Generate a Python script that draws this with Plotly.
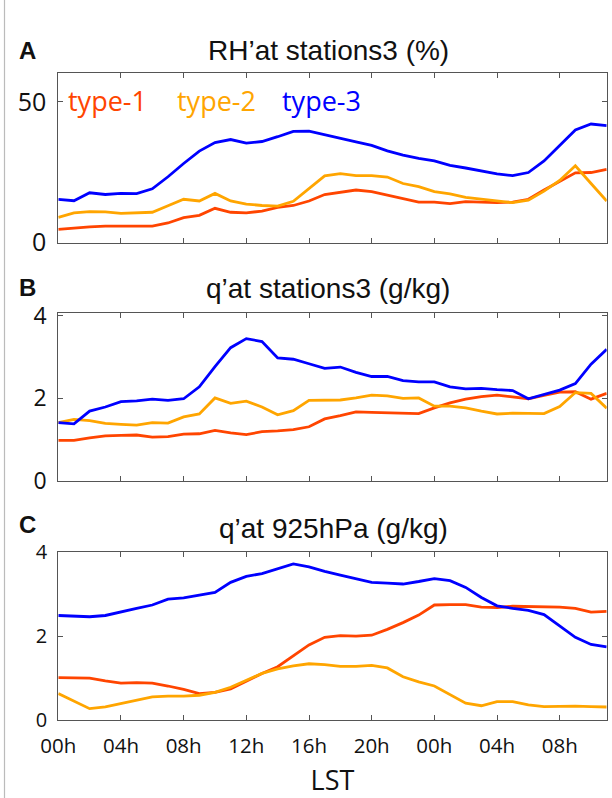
import plotly.graph_objects as go

hours = list(range(36))
xtick_vals = [0, 4, 8, 12, 16, 20, 24, 28, 32]
xtick_text = ["00h", "04h", "08h", "12h", "16h", "20h", "00h", "04h", "08h"]

series_names = ["type-1", "type-2", "type-3"]
colors = ["#FF4500", "#FFA500", "#0000FF"]

# Panel A: RH' at stations3 (%)
rh_type1 = [4.7, 5.2, 5.6, 5.9, 5.9, 5.8, 5.9, 7.0, 8.9, 9.7, 12.2, 10.8, 10.6, 11.2, 12.5, 13.2,
            14.8, 17.1, 18.0, 18.7, 18.1, 16.9, 15.5, 14.4, 14.4, 13.9, 14.6, 14.4, 14.2, 14.4,
            15.4, 18.7, 21.9, 24.8, 24.9, 26.0]
rh_type2 = [9.0, 10.6, 11.0, 10.9, 10.4, 10.5, 10.8, 13.1, 15.4, 14.8, 17.5, 14.8, 13.7, 13.2, 13.0,
            14.7, 19.3, 23.7, 24.5, 23.8, 23.8, 23.3, 21.0, 19.9, 18.1, 17.3, 16.1, 15.5, 14.8,
            14.2, 15.1, 18.3, 22.1, 27.3, 21.0, 14.8]
rh_type3 = [15.4, 14.9, 17.7, 17.1, 17.5, 17.4, 19.1, 23.4, 28.1, 32.5, 35.5, 36.6, 35.3, 35.9, 37.6,
            39.5, 39.6, 38.4, 37.1, 35.8, 34.5, 32.6, 31.1, 29.9, 29.0, 27.4, 26.5, 25.5, 24.4,
            23.8, 24.9, 29.0, 34.6, 40.0, 42.1, 41.5]

# Panel B: q' at stations3 (g/kg)
qs_type1 = [0.98, 0.98, 1.04, 1.09, 1.10, 1.11, 1.06, 1.07, 1.13, 1.14, 1.22, 1.16, 1.12, 1.19, 1.21,
            1.24, 1.31, 1.50, 1.58, 1.67, 1.66, 1.65, 1.64, 1.63, 1.77, 1.89, 1.98, 2.04, 2.08,
            2.04, 1.99, 2.07, 2.15, 2.16, 1.98, 2.12]
qs_type2 = [1.41, 1.49, 1.46, 1.39, 1.37, 1.35, 1.41, 1.40, 1.55, 1.62, 2.01, 1.88, 1.93, 1.79, 1.60,
            1.70, 1.95, 1.96, 1.96, 2.01, 2.08, 2.06, 2.00, 2.01, 1.81, 1.81, 1.77, 1.69, 1.62,
            1.64, 1.64, 1.63, 1.80, 2.14, 2.12, 1.76]
qs_type3 = [1.41, 1.38, 1.69, 1.79, 1.92, 1.94, 1.98, 1.95, 1.99, 2.28, 2.77, 3.23, 3.45, 3.38, 2.98,
            2.95, 2.84, 2.73, 2.76, 2.63, 2.53, 2.53, 2.43, 2.40, 2.40, 2.28, 2.23, 2.24, 2.21,
            2.19, 1.99, 2.09, 2.20, 2.36, 2.83, 3.19]

# Panel C: q' at 925hPa (g/kg)
q925_type1 = [1.01, 1.00, 1.00, 0.93, 0.88, 0.89, 0.88, 0.81, 0.73, 0.63, 0.66, 0.74, 0.92, 1.11, 1.27,
              1.53, 1.79, 1.97, 2.01, 2.00, 2.02, 2.16, 2.32, 2.50, 2.74, 2.75, 2.75, 2.69, 2.68,
              2.71, 2.70, 2.70, 2.69, 2.66, 2.57, 2.59]
q925_type2 = [0.63, 0.44, 0.27, 0.31, 0.39, 0.46, 0.55, 0.57, 0.57, 0.59, 0.66, 0.78, 0.95, 1.11, 1.22,
              1.29, 1.34, 1.32, 1.28, 1.28, 1.30, 1.24, 1.03, 0.91, 0.81, 0.60, 0.40, 0.34, 0.44,
              0.44, 0.36, 0.32, 0.33, 0.33, 0.32, 0.31]
q925_type3 = [2.49, 2.47, 2.46, 2.49, 2.58, 2.66, 2.74, 2.88, 2.91, 2.97, 3.04, 3.28, 3.42, 3.49, 3.61,
              3.72, 3.65, 3.54, 3.45, 3.37, 3.28, 3.26, 3.24, 3.30, 3.37, 3.32, 3.16, 2.92, 2.72,
              2.66, 2.61, 2.51, 2.23, 1.97, 1.80, 1.74]

panels = [
    ("A", "RH\u2019at stations3 (%)", [rh_type1, rh_type2, rh_type3], [0, 50], [0, 60.2], 25),
    ("B", "q\u2019at stations3 (g/kg)", [qs_type1, qs_type2, qs_type3], [0, 2, 4], [0, 4.08], 23),
    ("C", "q\u2019at 925hPa (g/kg)", [q925_type1, q925_type2, q925_type3], [0, 2, 4], [0, 4.01], 20),
]

W, H = 612, 798
xl, xr = 58.3, 606.7
ybounds = [(73.0, 242.7), (312.7, 480.7), (551.7, 720.0)]
title_y = [50.0, 288.5, 528.5]
title_x = [328, 328, 333]
letter_y = [50.0, 287.5, 524.0]

fig = go.Figure()
annotations = []
for i, (letter, title, data, ytv, yr, yfs) in enumerate(panels):
    n = i + 1
    xa = "x" if n == 1 else f"x{n}"
    ya = "y" if n == 1 else f"y{n}"
    for s, name, c in zip(data, series_names, colors):
        fig.add_trace(go.Scatter(x=hours, y=s, mode="lines", name=name,
                                 line=dict(color=c, width=2.8), xaxis=xa, yaxis=ya,
                                 showlegend=False))
    top, bot = ybounds[i]
    axis_common = dict(showline=True, linecolor="#555555", linewidth=1, mirror="allticks",
                       ticks="inside", ticklen=5, tickcolor="#555555", tickwidth=1,
                       showgrid=False, zeroline=False, automargin=False)
    xkey = "xaxis" if n == 1 else f"xaxis{n}"
    ykey = "yaxis" if n == 1 else f"yaxis{n}"
    fig.update_layout(**{
        xkey: dict(domain=[xl / W, xr / W], range=[0, 35], anchor=ya,
                   tickvals=xtick_vals, ticktext=xtick_text, showticklabels=(n == 3),
                   tickfont=dict(family="Open Sans", size=20.5, color="#111111"),
                   ticklabelstandoff=7,
                   title=dict(text="LST" if n == 3 else "",
                              font=dict(family="Open Sans", size=27, color="#111111"),
                              standoff=22),
                   **axis_common),
        ykey: dict(domain=[(H - bot) / H, (H - top) / H], range=yr, anchor=xa,
                   tickvals=ytv, tickfont=dict(family="Open Sans", size=yfs, color="#111111"),
                   ticklabelstandoff=6,
                   **axis_common),
    })
    annotations.append(dict(text=title, x=title_x[i] / W, y=(H - title_y[i]) / H, xref="paper", yref="paper",
                            xanchor="center", yanchor="middle", showarrow=False,
                            font=dict(family="Liberation Sans", size=28, color="#111111")))
    annotations.append(dict(text=f"<b>{letter}</b>", x=27 / W, y=(H - letter_y[i]) / H, xref="paper",
                            yref="paper", xanchor="center", yanchor="middle", showarrow=False,
                            font=dict(family="Liberation Sans", size=24, color="#111111")))

legend_x = [66, 175, 280]
for name, c, lx in zip(series_names, colors, legend_x):
    annotations.append(dict(text=name, x=lx / W, y=(H - 101) / H, xref="paper", yref="paper",
                            xanchor="left", yanchor="middle", showarrow=False,
                            font=dict(family="Open Sans", size=27, color=c)))

fig.update_layout(
    width=W, height=H,
    margin=dict(l=0, r=0, t=0, b=0, autoexpand=False),
    paper_bgcolor="white", plot_bgcolor="white",
    annotations=annotations,
    shapes=[dict(type="line", xref="paper", yref="paper", x0=4.5 / W, x1=4.5 / W, y0=0, y1=1,
                 line=dict(color="#bbbbbb", width=1.2))],
)

fig.write_html("out.html")
